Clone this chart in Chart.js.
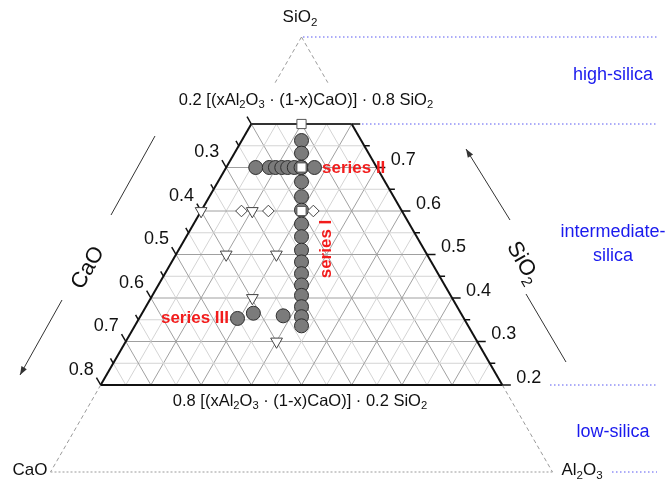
<!DOCTYPE html>
<html><head><meta charset="utf-8">
<script src="https://cdn.jsdelivr.net/npm/chart.js@4.4.0/dist/chart.umd.min.js"></script>
<style>html,body{margin:0;padding:0;background:#fff}canvas{display:block}</style>
</head><body>
<canvas id="c" width="671" height="487"></canvas>
<script>
// Compositions: SiO2 mole fraction and x = Al2O3/(Al2O3+CaO)
const seriesI_SiO2 = [0.762,0.733,0.700,0.667,0.633,0.602,0.570,0.541,0.510,0.483,0.456,0.430,0.406,0.380,0.357,0.336];
const seriesI_x    = [0.5,0.5,0.5,0.5,0.5,0.5,0.5,0.5,0.5,0.5,0.5,0.5,0.5,0.5,0.5,0.5];
const seriesII_SiO2 = [0.7,0.7,0.7,0.7,0.7,0.7,0.7,0.7];
const seriesII_x    = [0.196,0.286,0.327,0.369,0.408,0.452,0.497,0.586];
const seriesIII_SiO2 = [0.353,0.365,0.359];
const seriesIII_x    = [0.303,0.349,0.443];
const squares_SiO2 = [0.8,0.7,0.6];
const squares_x    = [0.5,0.5,0.5];
const diamonds_SiO2 = [0.6,0.6,0.6];
const diamonds_x    = [0.201,0.335,0.559];
const triangles_SiO2 = [0.6,0.6,0.5,0.5,0.4,0.3];
const triangles_x    = [0.0,0.255,0.2,0.4,0.337,0.429];
const leftTickLabels  = [0.3,0.4,0.5,0.6,0.7,0.8];   // CaO
const rightTickLabels = [0.2,0.3,0.4,0.5,0.6,0.7];   // SiO2
const regionLabels = ['high-silica','intermediate-','silica','low-silica'];

// ternary -> cartesian (x = Al2O3 + SiO2/2, y = SiO2)
function toXY(s, x){ const a = x*(1-s); return {x: a + s/2, y: s}; }
function pts(S, X){ return S.map((s,i)=>toXY(s, X[i])); }

const FONT = '"Liberation Sans", Arial, sans-serif';

function richWidth(ctx, parts, size){
  let w=0;
  for(const [t,sub] of parts){ ctx.font = (sub? size*0.68 : size)+'px '+FONT; w += ctx.measureText(t).width; }
  return w;
}
function drawRich(ctx, parts, x, y, size, align, color){
  const w = richWidth(ctx, parts, size);
  let cx = align==='center'? x - w/2 : (align==='right'? x - w : x);
  ctx.fillStyle = color || '#111';
  ctx.textBaseline = 'middle';
  ctx.textAlign = 'left';
  for(const [t,sub] of parts){
    ctx.font = (sub? size*0.68 : size)+'px '+FONT;
    ctx.fillText(t, cx, sub? y + size*0.32 : y);
    cx += ctx.measureText(t).width;
  }
}
function arrow(ctx, x1,y1,x2,y2, head){
  ctx.beginPath(); ctx.moveTo(x1,y1); ctx.lineTo(x2,y2); ctx.stroke();
  if(head){
    const ang = Math.atan2(y2-y1,x2-x1), L=9, W=0.35;
    ctx.beginPath();
    ctx.moveTo(x2,y2);
    ctx.lineTo(x2 - L*Math.cos(ang-W), y2 - L*Math.sin(ang-W));
    ctx.lineTo(x2 - L*Math.cos(ang+W), y2 - L*Math.sin(ang+W));
    ctx.closePath(); ctx.fill();
  }
}

const ternary = {
  id: 'ternary',
  beforeDatasetsDraw(chart){
    const ctx = chart.ctx, xs = chart.scales.x, ys = chart.scales.y;
    const P = (s,a) => [xs.getPixelForValue(a + s/2), ys.getPixelForValue(s)];
    const line = (p,q) => { ctx.beginPath(); ctx.moveTo(p[0],p[1]); ctx.lineTo(q[0],q[1]); ctx.stroke(); };
    ctx.save();
    // grid
    for(let k=5;k<=75;k+=5){
      const v = k/100, major = (k%10===0);
      ctx.strokeStyle = major ? '#a0a0a0' : '#d4d4d4';
      ctx.lineWidth = 1;
      if(v>0.2 && v<0.8) line(P(v,0), P(v,1-v));               // const SiO2
      { const S0=Math.min(1-v,0.8); line(P(S0,1-v-S0), P(0.2,0.8-v)); } // const CaO
      { const S0=Math.min(1-v,0.8); line(P(S0,v), P(0.2,v)); }           // const Al2O3
    }
    // outer dashed guide lines
    ctx.strokeStyle = '#9a9a9a'; ctx.lineWidth = 1; ctx.setLineDash([4,3]);
    line(P(1,0), P(0.895,0)); line(P(1,0), P(0.895,0.105));
    line(P(0.2,0), P(0,0)); line(P(0.2,0.8), P(0,1));
    ctx.setLineDash([2,2]);
    line(P(0,0), P(0,1));
    // blue dotted region separators
    ctx.strokeStyle = 'rgba(60,60,240,0.85)'; ctx.setLineDash([1.5,2.5]);
    const right = 657;
    [[1,303],[0.8,362],[0.2,550],[0,612]].forEach(([s,x0])=>{
      const y = ys.getPixelForValue(s); line([x0,y],[right,y]);
    });
    ctx.setLineDash([]);
    // edges
    ctx.strokeStyle = '#111'; ctx.lineWidth = 2;
    line(P(0.8,0), P(0.2,0));
    line(P(0.8,0.2), P(0.2,0.8));
    line(P(0.2,0), P(0.2,0.8));
    ctx.strokeStyle = '#333';
    line(P(0.8,0), P(0.8,0.2));
    // ticks
    ctx.lineWidth = 1.5; ctx.strokeStyle = '#111';
    for(let k=20;k<=80;k+=5){
      const v=k/100, d = (k%10===0)? 0.017 : 0.011;
      line(P(1-v,0), P(1-v+d,-d));        // left (CaO)
      line(P(v,1-v), P(v,1-v+d));         // right (SiO2)
    }
    ctx.restore();
  },
  afterDatasetsDraw(chart){
    const ctx = chart.ctx, xs = chart.scales.x, ys = chart.scales.y;
    const P = (s,a) => [xs.getPixelForValue(a + s/2), ys.getPixelForValue(s)];
    ctx.save();
    // tick labels
    ctx.fillStyle='#111'; ctx.font='18px '+FONT; ctx.textBaseline='middle';
    ctx.textAlign='right';
    leftTickLabels.forEach(c=>{ const p=P(1-c,0); ctx.fillText(c.toFixed(1), p[0]-7, p[1]-15); });
    ctx.textAlign='left';
    rightTickLabels.forEach(s=>{ const p=P(s,1-s); ctx.fillText(s.toFixed(1), p[0]+14, p[1]-7); });
    // formula labels
    const top = [['0.2 [(xAl',0],['2',1],['O',0],['3',1],[' \u00b7 (1-x)CaO)] \u00b7 0.8 SiO',0],['2',1]];
    const bot = [['0.8 [(xAl',0],['2',1],['O',0],['3',1],[' \u00b7 (1-x)CaO)] \u00b7 0.2 SiO',0],['2',1]];
    drawRich(ctx, top, 306, 100, 16.5, 'center');
    drawRich(ctx, bot, 300, 401, 16.5, 'center');
    // vertex labels
    drawRich(ctx, [['SiO',0],['2',1]], 300, 17, 17, 'center');
    drawRich(ctx, [['CaO',0]], 30, 470, 17, 'center');
    drawRich(ctx, [['Al',0],['2',1],['O',0],['3',1]], 582, 470, 17, 'center');
    // axis titles
    ctx.save(); ctx.translate(88,268); ctx.rotate(-Math.PI/3);
    drawRich(ctx, [['CaO',0]], 0, 0, 22, 'center'); ctx.restore();
    ctx.save(); ctx.translate(523,263); ctx.rotate(Math.PI/3);
    drawRich(ctx, [['SiO',0],['2',1]], 0, 0, 22, 'center'); ctx.restore();
    // arrows
    ctx.strokeStyle='#333'; ctx.fillStyle='#333'; ctx.lineWidth=1;
    arrow(ctx, 155,136, 111,215, false);
    arrow(ctx, 62,300, 20,375, true);
    arrow(ctx, 510,220, 466,149, true);
    arrow(ctx, 526,294, 566,362, false);
    // region labels
    ctx.fillStyle='#1a1aee'; ctx.font='18px '+FONT; ctx.textAlign='center'; ctx.textBaseline='middle';
    ctx.fillText(regionLabels[0], 613, 75);
    ctx.fillText(regionLabels[1], 613, 232);
    ctx.fillText(regionLabels[2], 613, 256);
    ctx.fillText(regionLabels[3], 613, 432);
    // series labels
    ctx.fillStyle='#f21c1c'; ctx.font='bold 17px '+FONT;
    ctx.textAlign='left'; ctx.fillText('series II', 322, 168);
    ctx.textAlign='right'; ctx.fillText('series III', 229, 318);
    ctx.save(); ctx.translate(326,249); ctx.rotate(-Math.PI/2);
    ctx.textAlign='center'; ctx.fillText('series I', 0, 0); ctx.restore();
    ctx.restore();
  }
};

const circleStyle = {pointStyle:'circle', pointRadius:7, pointBackgroundColor:'#7b7b7b', pointBorderColor:'#2e2e2e', pointBorderWidth:1};
new Chart(document.getElementById('c'), {
  type: 'scatter',
  data: { datasets: [
    {label:'squares', data: pts(squares_SiO2, squares_x), pointStyle:'rect', pointRadius:6.5, pointBackgroundColor:'#fff', pointBorderColor:'#555', pointBorderWidth:1},
    {label:'diamonds', data: pts(diamonds_SiO2, diamonds_x), pointStyle:'rectRot', pointRadius:5.8, pointBackgroundColor:'#fff', pointBorderColor:'#444', pointBorderWidth:1},
    {label:'triangles', data: pts(triangles_SiO2, triangles_x), pointStyle:'triangle', pointRotation:180, pointRadius:6.8, pointBackgroundColor:'#fff', pointBorderColor:'#444', pointBorderWidth:1},
    Object.assign({label:'series III', data: pts(seriesIII_SiO2, seriesIII_x)}, circleStyle),
    Object.assign({label:'series II', data: pts(seriesII_SiO2, seriesII_x)}, circleStyle),
    Object.assign({label:'series I', data: pts(seriesI_SiO2, seriesI_x)}, circleStyle)
  ]},
  options: {
    responsive: false, animation: false, devicePixelRatio: 1,
    layout: { padding: {left: 50.5, right: 118.5, top: 37, bottom: 15} },
    scales: {
      x: {type:'linear', min:0, max:1, display:false},
      y: {type:'linear', min:0, max:1, display:false}
    },
    plugins: { legend:{display:false}, tooltip:{enabled:false} },
    elements: { point: { hoverRadius: 7 } }
  },
  plugins: [ternary]
});
</script>
</body></html>
